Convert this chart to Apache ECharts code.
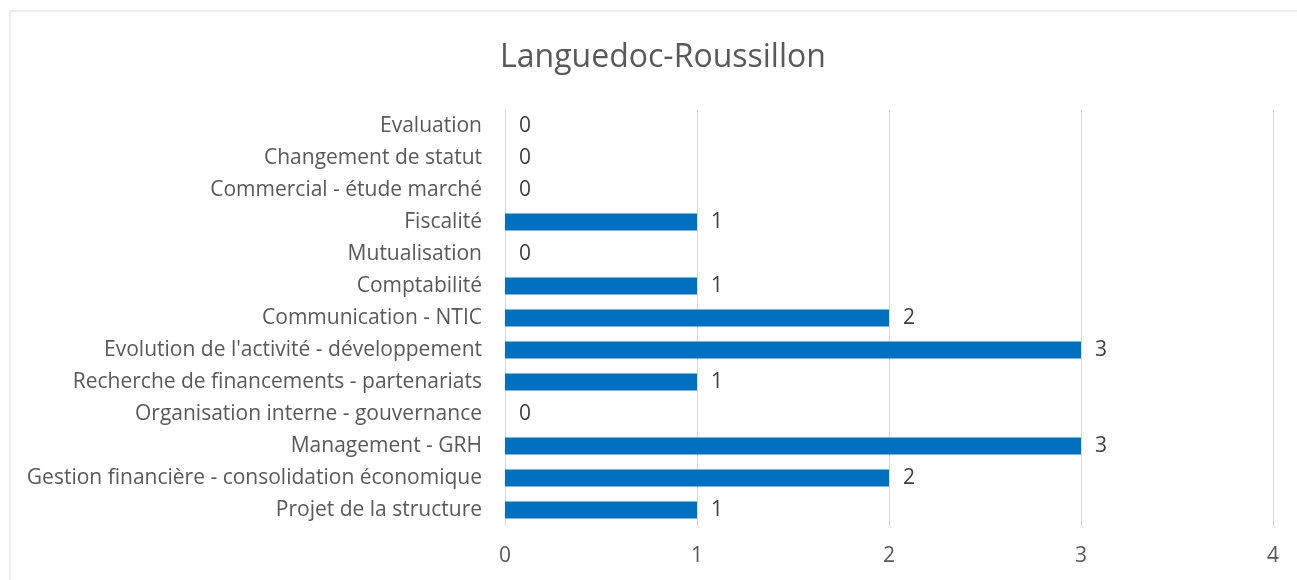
<!DOCTYPE html>
<html><head><meta charset="utf-8">
<script src="https://cdn.jsdelivr.net/npm/echarts@6/dist/echarts.min.js"></script>
<style>html,body{margin:0;padding:0;background:#fff}#c{width:1297px;height:580px}</style>
</head><body><div id="c"></div>
<script>
const categories = ["Projet de la structure","Gestion financière - consolidation économique","Management - GRH","Organisation interne - gouvernance","Recherche de financements - partenariats","Evolution de l'activité - développement","Communication - NTIC","Comptabilité","Mutualisation","Fiscalité","Commercial - étude marché","Changement de statut","Evaluation"];
const values = [1,2,3,0,1,3,2,1,0,1,0,0,0];
const xTicks = [0,1,2,3,4];
const FONT = "'Open Sans', sans-serif";
const chart = echarts.init(document.getElementById('c'));
chart.setOption({
  animation:false,
  graphic:[{type:'rect',shape:{x:10,y:11,width:1400,height:700},style:{fill:'none',stroke:'#d9d9d9',lineWidth:1},silent:true}],
  title:{text:'Languedoc-Roussillon',left:658,top:37,textAlign:'center',textStyle:{fontFamily:FONT,fontSize:32,fontWeight:'normal',color:'#595959'}},
  grid:{left:505,right:24,top:110,bottom:54,containLabel:false},
  xAxis:{type:'value',min:xTicks[0],max:xTicks[xTicks.length-1],interval:1,
    axisLine:{show:false},axisTick:{show:false},
    splitLine:{lineStyle:{color:'#d9d9d9',width:1}},
    axisLabel:{fontFamily:FONT,fontSize:21,color:'#595959',margin:20}},
  yAxis:{type:'category',data:categories,
    axisLine:{lineStyle:{color:'#d9d9d9'}},
    axisTick:{length:5,lineStyle:{color:'#d9d9d9'}},
    axisLabel:{fontFamily:FONT,fontSize:21,color:'#595959',margin:23,padding:[5,0,0,0]}},
  series:[{type:'bar',data:values,barCategoryGap:'47%',itemStyle:{color:'#0070C0'},
    label:{show:true,position:'right',distance:14,fontFamily:FONT,fontSize:21,color:'#404040',padding:[4,0,0,0]}}]
});
</script></body></html>
